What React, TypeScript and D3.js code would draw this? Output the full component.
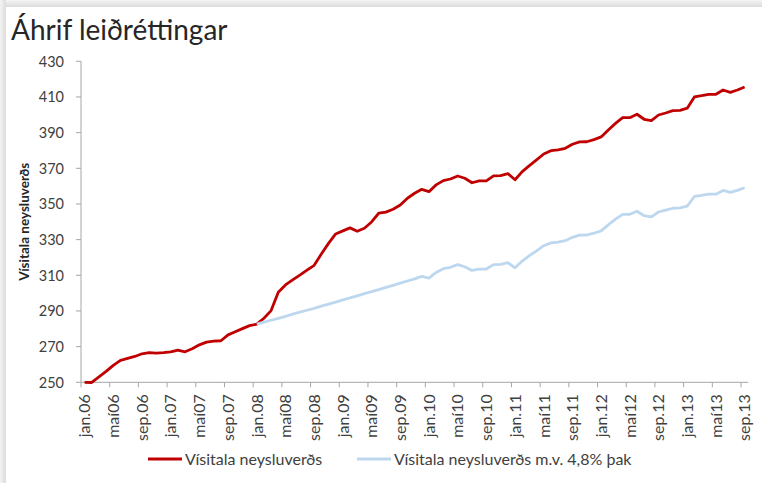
import React, { useEffect } from "react";
import * as d3 from "d3";

const W = 762;
const H = 483;

const titleText = "Áhrif leiðréttingar";
const yAxisTitle = "Vísitala neysluverðs";
const seriesNames = ["Vísitala neysluverðs", "Vísitala neysluverðs m.v. 4,8% þak"];
const seriesColors = ["#c00000", "#bdd7ee"];

const yTicks = [250, 270, 290, 310, 330, 350, 370, 390, 410, 430];

// monthly, jan.06 .. sep.13 (93 months)
const months = d3.range(93);

const xTickLabels = [
  "jan.06", "maí06", "sep.06", "jan.07", "maí07", "sep.07", "jan.08", "maí08",
  "sep.08", "jan.09", "maí09", "sep.09", "jan.10", "maí10", "sep.10", "jan.11",
  "maí11", "sep.11", "jan.12", "maí12", "sep.12", "jan.13", "maí13", "sep.13",
];

const cpi: number[] = [
  250.0, 249.9, 253.0, 256.1, 259.5, 262.3, 263.4, 264.5, 266.0, 266.6, 266.4, 266.6,
  267.1, 268.0, 267.1, 268.8, 271.0, 272.5, 273.1, 273.3, 276.6, 278.3, 280.1, 281.8,
  282.6, 285.9, 290.2, 300.5, 304.6, 307.4, 310.1, 312.9, 315.6, 321.9, 327.9, 333.2,
  334.9, 336.6, 334.7, 336.4, 339.9, 344.8, 345.4, 347.0, 349.4, 353.2, 356.0, 358.2,
  356.9, 360.7, 363.1, 364.0, 365.7, 364.4, 361.9, 362.9, 362.9, 365.7, 365.9, 367.0,
  363.6, 368.1, 371.5, 374.7, 378.0, 379.9, 380.3, 381.2, 383.5, 384.8, 384.9, 386.1,
  387.6, 391.5, 395.2, 398.4, 398.4, 400.3, 397.5, 396.7, 399.9, 401.0, 402.3, 402.5,
  403.7, 410.0, 410.7, 411.5, 411.5, 413.9, 412.6, 413.9, 415.6,
];

const cpiCapped: (number | null)[] = [
  null, null, null, null, null, null, null, null, null, null, null, null,
  null, null, null, null, null, null, null, null, null, null, null, null,
  282.6, 283.7, 284.8, 285.9, 287.0, 288.2, 289.3, 290.4, 291.5, 292.7, 293.8, 295.0,
  296.2, 297.3, 298.5, 299.7, 300.8, 302.0, 303.2, 304.4, 305.6, 306.8, 308.0, 309.4,
  308.4, 311.6, 313.7, 314.5, 316.0, 314.8, 312.7, 313.5, 313.5, 316.0, 316.1, 317.1,
  314.2, 318.0, 321.0, 323.7, 326.6, 328.2, 328.6, 329.4, 331.3, 332.5, 332.6, 333.6,
  334.9, 338.3, 341.5, 344.2, 344.2, 345.9, 343.4, 342.8, 345.5, 346.5, 347.6, 347.8,
  348.8, 354.2, 354.8, 355.5, 355.5, 357.6, 356.5, 357.6, 359.1,
];

const FONT = "Lato, 'Open Sans', sans-serif";

export default function App() {
  useEffect(() => {
    document.body.style.margin = "0";
  }, []);

  const left = 81;
  const right = 748.2;
  const top = 61.3;
  const bottom = 382.3;

  const x = d3.scaleBand<number>().domain(months).range([left, right]).paddingInner(0).paddingOuter(0);
  const bw = x.bandwidth();
  const cx = (i: number) => (x(i) as number) + bw / 2;
  const y = d3.scaleLinear().domain([250, 430]).range([bottom, top]);

  const line = d3
    .line<number | null>()
    .defined((d) => d != null)
    .x((_, i) => cx(i))
    .y((d) => y(d as number));

  const tickIdx = months.filter((i) => i % 4 === 0);
  const axisColor = "#a6a6a6";
  const textColor = "#404040";

  return (
    <svg width={W} height={H} style={{ display: "block" }} fontFamily={FONT}>
      <defs>
        <linearGradient id="topShade" x1="0" y1="0" x2="0" y2="1">
          <stop offset="0" stopColor="#f4f4f4" />
          <stop offset="1" stopColor="#dcdcdc" />
        </linearGradient>
        <linearGradient id="leftShade" x1="0" y1="0" x2="1" y2="0">
          <stop offset="0" stopColor="#f4f4f4" />
          <stop offset="1" stopColor="#dcdcdc" />
        </linearGradient>
      </defs>
      <rect x={0} y={0} width={W} height={H} fill="#ffffff" />
      <rect x={0} y={0} width={W} height={7} fill="url(#topShade)" />
      <rect x={0} y={0} width={6} height={H} fill="url(#leftShade)" />
      <rect x={6} y={7} width={W - 6} height={H - 7} fill="#ffffff" />

      <text x={11} y={40} fontSize={28} fill="#262626">
        {titleText}
      </text>

      {/* y axis */}
      <line x1={left} x2={left} y1={top} y2={bottom} stroke={axisColor} strokeWidth={1} />
      {yTicks.map((t) => (
        <g key={t}>
          <line x1={left - 5} x2={left} y1={y(t)} y2={y(t)} stroke={axisColor} />
          <text x={64} y={y(t)} dy="0.36em" textAnchor="end" fontSize={14.5} fill={textColor}>
            {t}
          </text>
        </g>
      ))}
      <text
        transform={`translate(29, ${(top + bottom) / 2}) rotate(-90)`}
        textAnchor="middle"
        fontSize={13.5}
        fontWeight="bold"
        fill="#262626"
      >
        {yAxisTitle}
      </text>

      {/* x axis */}
      <line x1={left} x2={right} y1={bottom} y2={bottom} stroke={axisColor} strokeWidth={1} />
      {tickIdx.map((i, k) => (
        <g key={i}>
          <line x1={x(i) as number} x2={x(i) as number} y1={bottom} y2={bottom + 5} stroke={axisColor} />
          <text
            transform={`translate(${cx(i)}, ${bottom + 12}) rotate(-90)`}
            textAnchor="end"
            dy="0.36em"
            fontSize={16}
            fill={textColor}
          >
            {xTickLabels[k]}
          </text>
        </g>
      ))}

      {/* lines */}
      <path d={line(cpi) || ""} fill="none" stroke={seriesColors[0]} strokeWidth={2.8} strokeLinejoin="round" />
      <path d={line(cpiCapped) || ""} fill="none" stroke={seriesColors[1]} strokeWidth={2.8} strokeLinejoin="round" />

      {/* legend */}
      <line x1={148} x2={182} y1={459} y2={459} stroke={seriesColors[0]} strokeWidth={2.8} />
      <text x={185} y={464.5} fontSize={16} fill={textColor}>
        {seriesNames[0]}
      </text>
      <line x1={357} x2={391} y1={459} y2={459} stroke={seriesColors[1]} strokeWidth={2.8} />
      <text x={394} y={464.5} fontSize={16} fill={textColor}>
        {seriesNames[1]}
      </text>
    </svg>
  );
}
